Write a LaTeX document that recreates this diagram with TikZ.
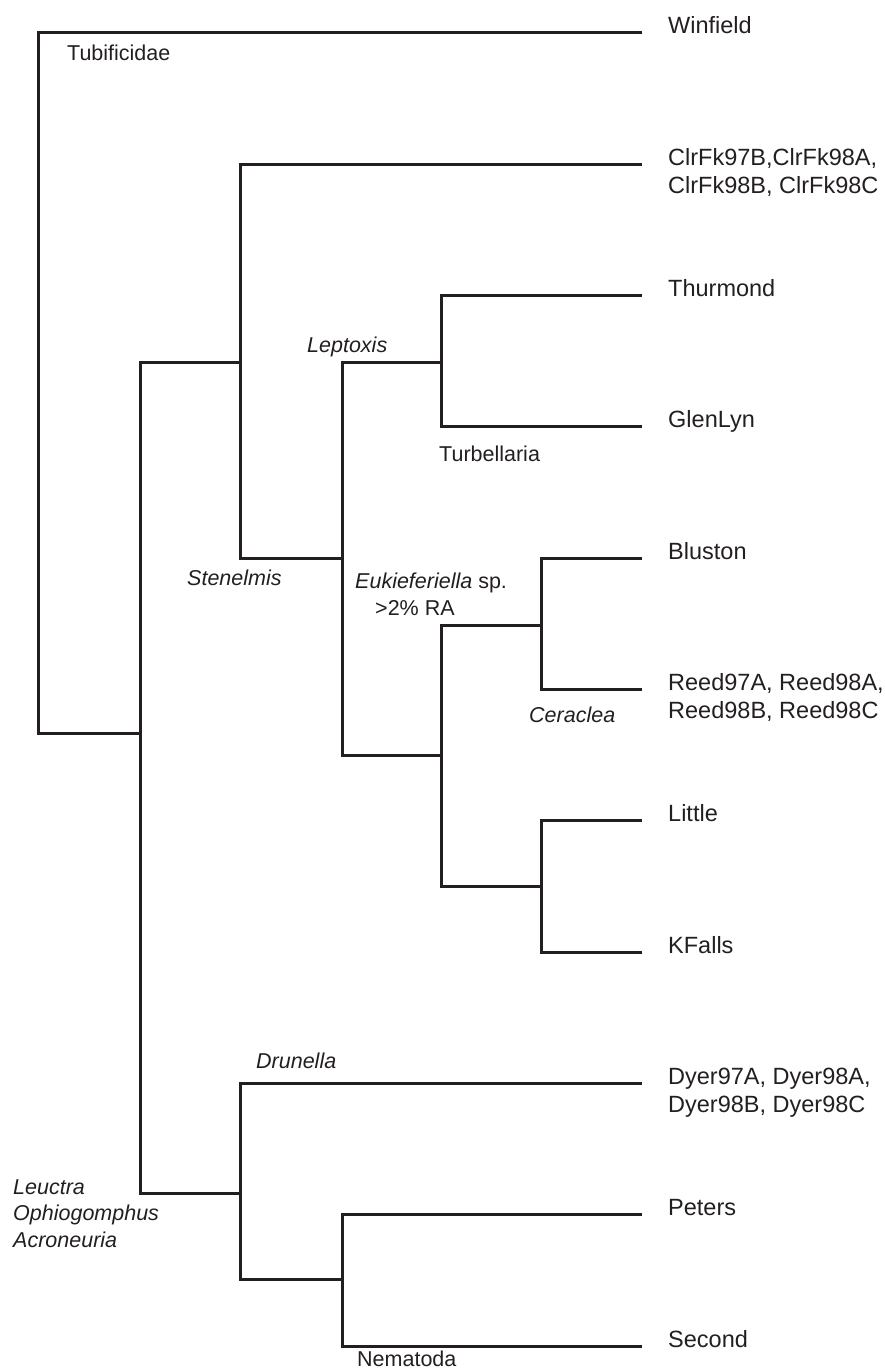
\documentclass[tikz,border=0pt]{standalone}
\usepackage{fontspec}
\setmainfont{Liberation Sans}
\usepackage{xcolor}
\usetikzlibrary{calc}
\definecolor{ink}{HTML}{231F20}

\tikzset{
  branch/.style={draw=ink, line width=3pt},
  leaf/.style={text=ink, inner sep=0pt, anchor=base west, align=left, font=\fontsize{23.5}{28}\selectfont},
  taxon/.style={text=ink, inner sep=0pt, anchor=base west, align=left, font=\fontsize{21.5}{26.5}\selectfont},
}

\begin{document}
\begin{tikzpicture}[x=1pt,y=-1pt]
\useasboundingbox (0,0) rectangle (885,1370);

% tips of the sites
\foreach \n [count=\i from 0] in {Win,Clr,Thu,Gle,Blu,Ree,Lit,KFa,Dye,Pet,Sec} {
\coordinate (t\n) at (642,{33+131.3*\i});
}

% inner nodes
\coordinate (root) at (38,383);
\coordinate (nA) at (140,733);
\coordinate (nB) at (240,362);
\coordinate (nC) at (342,558);
\coordinate (nD) at (441,362);
\coordinate (nE) at (441,755);
\coordinate (nF) at (541,625);
\coordinate (nG) at (541,886);
\coordinate (nH) at (240,1193);
\coordinate (nI) at (342,1279);

\foreach \p/\c in {root/tWin,root/nA,nA/nB,nA/nH,nB/tClr,nB/nC,nC/nD,nC/nE,nD/tThu,nD/tGle,
  nE/nF,nE/nG,nF/tBlu,nF/tRee,nG/tLit,nG/tKFa,nH/tDye,nH/nI,nI/tPet,nI/tSec} {
\draw[branch] (\p) |- (\c);
}

% site names (two-line ones sit on their last line)
\node[leaf] (lWin) at ($(tWin)+(26,1)$) {Winfield};
\node[leaf] (lClr) at ($(tClr)+(26,29)$) {ClrFk97B,ClrFk98A,\\ClrFk98B, ClrFk98C};
\node[leaf] (lThu) at ($(tThu)+(26,1)$) {Thurmond};
\node[leaf] (lGle) at ($(tGle)+(26,1)$) {GlenLyn};
\node[leaf] (lBlu) at ($(tBlu)+(26,1)$) {Bluston};
\node[leaf] (lRee) at ($(tRee)+(26,29)$) {Reed97A, Reed98A,\\Reed98B, Reed98C};
\node[leaf] (lLit) at ($(tLit)+(26,1)$) {Little};
\node[leaf] (lKFa) at ($(tKFa)+(26,1)$) {KFalls};
\node[leaf] (lDye) at ($(tDye)+(26,29)$) {Dyer97A, Dyer98A,\\Dyer98B, Dyer98C};
\node[leaf] (lPet) at ($(tPet)+(26,1)$) {Peters};
\node[leaf] (lSec) at ($(tSec)+(26,1)$) {Second};

% taxa on the branches
\node[taxon] (tubi) at (67,61) {Tubificidae};
\node[taxon] (lept) at (307,352) {\itshape Leptoxis};
\node[taxon] (turb) at (439,461) {Turbellaria};
\node[taxon] (sten) at (187,585) {\itshape Stenelmis};
\node[taxon] (euki) at (355,615) {\textit{Eukieferiella} sp.\\\hspace*{20pt}>2\% RA};
\node[taxon] (cera) at (529,722) {\itshape Ceraclea};
\node[taxon] (drun) at (256,1068) {\itshape Drunella};
\node[taxon] (leuc) at (13,1247) {\itshape Leuctra\\\itshape Ophiogomphus\\\itshape Acroneuria};
\node[taxon] (nema) at (357,1366) {Nematoda};
\end{tikzpicture}
\end{document}
